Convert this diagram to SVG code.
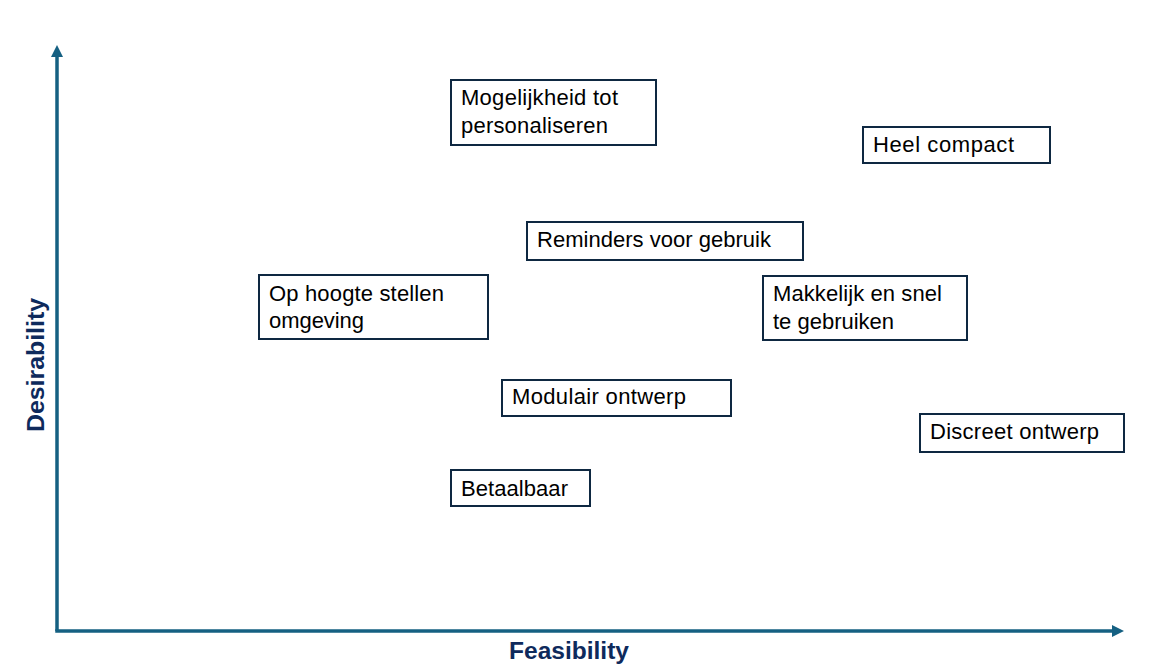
<svg xmlns="http://www.w3.org/2000/svg" width="1175" height="672" viewBox="0 0 1175 672">
<style>
.box{fill:#ffffff;stroke:#0e2841;stroke-width:2}
.t{font-family:"Liberation Sans",Arial,sans-serif;font-size:22px;fill:#000000}
.ax{fill:none;stroke:#156082;stroke-width:3.5}
.lbl{font-family:"Liberation Sans",Arial,sans-serif;font-size:23px;font-weight:bold;fill:#0e2a5c}
</style>
<defs>
<marker id="arr" viewBox="0 0 12 12" refX="0" refY="6" markerWidth="12" markerHeight="12" markerUnits="userSpaceOnUse" orient="auto">
<path d="M0,0 L12,6 L0,12 z" fill="#156082"/>
</marker>
</defs>
<rect width="1175" height="672" fill="#ffffff"/>
<g id="connectors">
<path class="ax" d="M57,631 L57,57" marker-end="url(#arr)"/>
<path class="ax" d="M55.25,631 L1112,631" marker-end="url(#arr)"/>
</g>
<g id="axis-labels">
<text class="lbl" x="569" y="659" text-anchor="middle" textLength="120" lengthAdjust="spacingAndGlyphs">Feasibility</text>
<text class="lbl" transform="translate(44,365) rotate(-90)" x="0" y="0" text-anchor="middle" textLength="134" lengthAdjust="spacingAndGlyphs">Desirability</text>
</g>
<g id="n1">
<rect class="box" x="451" y="80" width="205" height="65"/>
<text class="t" x="461" y="105" textLength="157">Mogelijkheid tot</text>
<text class="t" x="461" y="133" textLength="147">personaliseren</text>
</g>
<g id="n2">
<rect class="box" x="863" y="127" width="187" height="36"/>
<text class="t" x="873" y="152" textLength="141">Heel compact</text>
</g>
<g id="n3">
<rect class="box" x="527" y="222" width="276" height="38"/>
<text class="t" x="537" y="247" textLength="234">Reminders voor gebruik</text>
</g>
<g id="n4">
<rect class="box" x="259" y="275" width="229" height="64"/>
<text class="t" x="269" y="301" textLength="175">Op hoogte stellen</text>
<text class="t" x="269" y="328" textLength="95">omgeving</text>
</g>
<g id="n5">
<rect class="box" x="763" y="276" width="204" height="64"/>
<text class="t" x="773" y="301" textLength="169">Makkelijk en snel</text>
<text class="t" x="773" y="329" textLength="121">te gebruiken</text>
</g>
<g id="n6">
<rect class="box" x="502" y="380" width="229" height="36"/>
<text class="t" x="512" y="404" textLength="174">Modulair ontwerp</text>
</g>
<g id="n7">
<rect class="box" x="920" y="414" width="204" height="38"/>
<text class="t" x="930" y="439" textLength="169">Discreet ontwerp</text>
</g>
<g id="n8">
<rect class="box" x="451" y="470" width="139" height="36"/>
<text class="t" x="461" y="496" textLength="107">Betaalbaar</text>
</g>
</svg>
